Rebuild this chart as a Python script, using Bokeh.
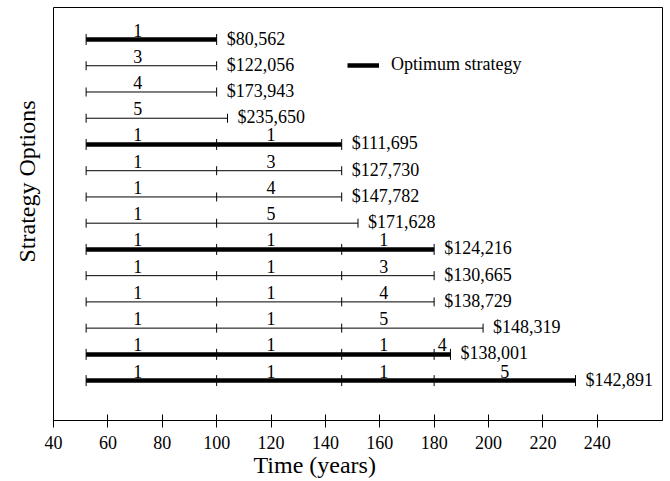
from bokeh.plotting import figure
from bokeh.models import (ColumnDataSource, Range1d, FixedTicker, Legend,
                          LegendItem, Title)
from bokeh.core.properties import value
from bokeh.embed import file_html
from bokeh.resources import INLINE
import numpy as np

FONT = "Liberation Serif"

# Replacement times (years) bounding each strategy's periods, top row first
breakpoints = [
    [52, 100], [52, 100], [52, 100], [52, 104],
    [52, 100, 146], [52, 100, 146], [52, 100, 146], [52, 100, 152],
    [52, 100, 146, 180], [52, 100, 146, 180], [52, 100, 146, 180], [52, 100, 146, 198],
    [52, 100, 146, 180, 186], [52, 100, 146, 180, 232],
]
# Option chosen in each period
period_options = [
    ["1"], ["3"], ["4"], ["5"],
    ["1", "1"], ["1", "3"], ["1", "4"], ["1", "5"],
    ["1", "1", "1"], ["1", "1", "3"], ["1", "1", "4"], ["1", "1", "5"],
    ["1", "1", "1", "4"], ["1", "1", "1", "5"],
]
# Present cost of each strategy ($)
costs = [80562, 122056, 173943, 235650, 111695, 127730, 147782, 171628,
         124216, 130665, 138729, 148319, 138001, 142891]
optimum = [True, False, False, False, True, False, False, False,
           True, False, False, False, True, True]

x_ticks = [40, 60, 80, 100, 120, 140, 160, 180, 200, 220, 240]

# where the option numbers sit along each period column
label_cols = [71, 120, 161.5]

thick = dict(x0=[], x1=[], y=[])
thin = dict(x0=[], x1=[], y=[])
marks = dict(x=[], y=[], s=[])
opt_lbl = dict(x=[], y=[], t=[])
cost_lbl = dict(x=[], y=[], t=[])

for i, (bp, opts, c, best) in enumerate(zip(breakpoints, period_options, costs, optimum)):
    row = i + 1
    tgt = thick if best else thin
    for k in range(len(bp) - 1):
        tgt["x0"].append(bp[k]); tgt["x1"].append(bp[k + 1]); tgt["y"].append(row)
        lx = label_cols[k] if k < len(label_cols) else (bp[k] + bp[k + 1]) / 2
        opt_lbl["x"].append(lx); opt_lbl["y"].append(row); opt_lbl["t"].append(opts[k])
    for b in bp:
        marks["x"].append(b); marks["y"].append(row); marks["s"].append(11 if best else 9)
    cost_lbl["x"].append(bp[-1]); cost_lbl["y"].append(row); cost_lbl["t"].append("${:,}".format(c))

p = figure(width=670, height=481, output_backend="svg", toolbar_location=None,
           x_range=Range1d(40, 264), y_range=Range1d(15.52, -0.22),
           y_axis_location=None,
           min_border_left=53, min_border_right=8, min_border_top=7, min_border_bottom=61)
p.background_fill_color = "white"
p.border_fill_color = "white"
p.outline_line_color = "black"
p.outline_line_width = 1
p.grid.visible = False

ax = p.xaxis[0]
ax.ticker = FixedTicker(ticks=x_ticks)
ax.minor_tick_line_color = None
ax.major_tick_in = 6
ax.major_tick_out = 7
ax.axis_line_color = "black"
ax.major_tick_line_color = "black"
ax.major_label_text_font = FONT
ax.major_label_text_font_size = "18px"
ax.major_label_text_color = "black"
ax.major_label_standoff = 8

# axis titles
p.add_layout(Title(text="Time (years)", text_font=FONT, text_font_size="24px",
                   text_font_style="normal", text_color="black", align="left",
                   vertical_align="top", offset=200, standoff=0), "below")
p.add_layout(Title(text="Strategy Options", text_font=FONT, text_font_size="24px",
                   text_font_style="normal", text_color="black", align="left",
                   vertical_align="top", offset=158, standoff=24), "left")

thin_r = p.segment("x0", "y", "x1", "y", source=ColumnDataSource(thin),
                   line_color="black", line_width=1)
thick_r = p.segment("x0", "y", "x1", "y", source=ColumnDataSource(thick),
                    line_color="black", line_width=4.5)
p.scatter("x", "y", source=ColumnDataSource(marks), marker="dash", angle=np.pi / 2,
          size="s", line_color="black", line_width=1)

p.text("x", "y", text="t", source=ColumnDataSource(opt_lbl), text_font=value(FONT),
       text_font_size="18px", text_align="center", text_baseline="bottom",
       y_offset=-3, text_color="black")
p.text("x", "y", text="t", source=ColumnDataSource(cost_lbl), text_font=value(FONT),
       text_font_size="18px", text_align="left", text_baseline="middle",
       x_offset=10, y_offset=-1, text_color="black")

legend = Legend(items=[LegendItem(label="Optimum strategy", renderers=[thick_r])],
                location=(294, 345), glyph_width=32, glyph_height=20,
                label_standoff=12, padding=0, margin=0, border_line_color=None,
                background_fill_alpha=0, label_text_font=FONT,
                label_text_font_size="18px", label_text_color="black")
p.add_layout(legend, "center")

open("out.html", "w").write(file_html(p, INLINE))
